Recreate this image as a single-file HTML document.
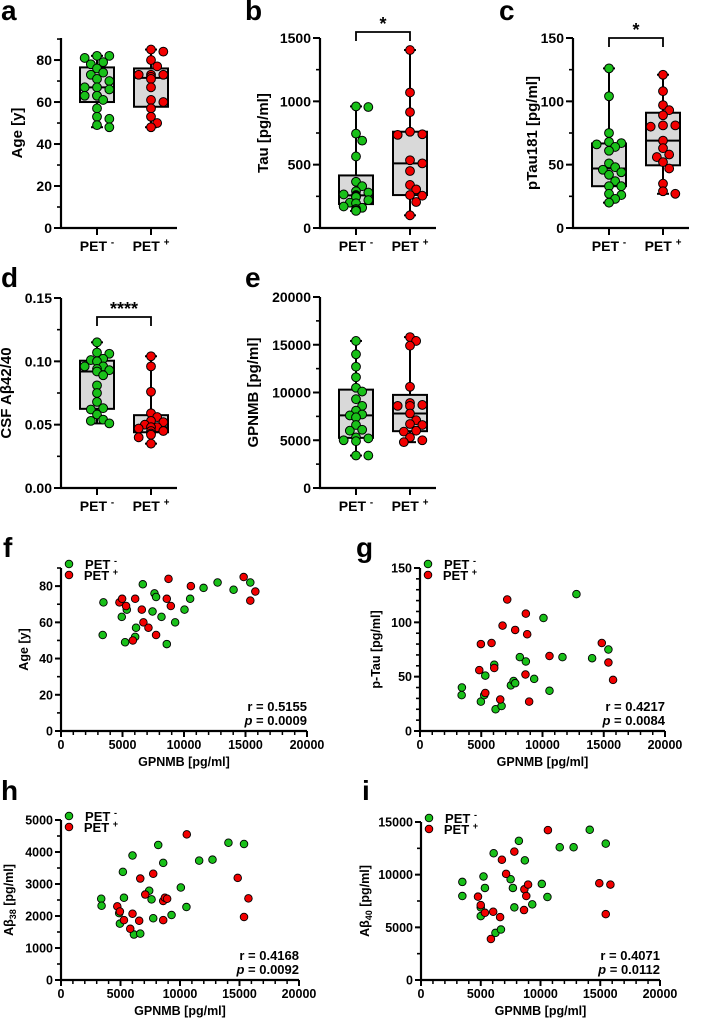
<!DOCTYPE html>
<html><head><meta charset="utf-8"><style>
html,body{margin:0;padding:0;background:#fff;}
svg{display:block;font-family:"Liberation Sans",Arial,sans-serif;font-weight:bold;}
</style></head><body>
<svg id="fig" width="709" height="1021" viewBox="0 0 709 1021" xmlns="http://www.w3.org/2000/svg"></svg>
<script>
// ---------- DATA ----------
const groups = ["PET -", "PET +"];
const ageNeg = [82,82,81,79,78,76,74,73,71,70,67,67,66,63,63,63,61,57,53,52,49,48];
const agePos = [85,84,80,77,73,73,73,72,71,67,61,60,57,53,50,48];
const tauNeg = [960,955,745,690,565,365,330,290,280,265,260,255,250,245,220,200,195,170,160,150,140,135];
const tauPos = [1405,1070,915,760,740,735,535,510,450,340,305,260,255,205,100];
const ptauNeg = [126,104,75,68,67,66,64,61,51,48,46,44,42,37,33,33,27,26,23,20];
const ptauPos = [121,108,97,93,89,81,81,80,69,63,58,56,52,47,35,29,27];
const abNeg = [0.115,0.107,0.106,0.102,0.101,0.100,0.096,0.096,0.094,0.093,0.092,0.089,0.081,0.075,0.068,0.063,0.062,0.058,0.054,0.053,0.051];
const abPos = [0.104,0.096,0.076,0.059,0.056,0.053,0.052,0.050,0.048,0.048,0.047,0.045,0.045,0.043,0.042,0.040,0.035];
const gpNeg = [15400,14000,12700,11600,10500,10100,9300,8600,8100,7700,7600,7400,6600,6100,6000,5300,5200,5000,4900,3400,3400];
const gpPos = [15800,15400,14900,10600,8900,8700,8600,8600,7800,7100,6700,6600,6000,5900,5300,5000,4800];

const fNegX = [3450,3390,4940,5350,5210,6100,6030,6650,7600,7730,7440,8170,8600,9280,10040,10500,11590,12730,14030,15390];
const fNegY = [71,53,63,67,49,57,52,81,76,74,66,63,48,60,67,73,79,82,78,82];
const fPosX = [4750,4970,5290,5840,6030,6570,6700,7110,7730,8600,8740,8930,10560,14850,15390,15800];
const fPosY = [71,73,69,50,73,67,60,57,53,73,84,69,80,85,72,77];

const gNegX = [3420,3400,4970,5240,5330,6060,6170,6660,7420,7640,7770,8150,8640,9320,10080,10570,11630,12770,14050,15380];
const gNegY = [40,33,27,33,51,61,20,23,42,46,44,68,64,48,104,37,68,126,67,75];
const gPosX = [4840,4970,5330,5840,6060,6550,6740,7120,7770,8640,8610,8750,8910,10570,14840,15380,15760];
const gPosY = [56,80,35,81,58,29,97,121,93,108,52,89,27,69,81,63,47];

const hNegX = [3380,3410,4890,4950,5200,5290,6010,6130,6660,7410,7610,7750,8170,8590,9290,10070,10540,11610,12730,14070,15380];
const hNegY = [2540,2320,2090,1760,3380,2570,3890,1420,1450,2790,2520,1930,4220,3660,2030,2890,2280,3730,3760,4290,4250];
const hPosX = [4730,4950,5290,5820,6010,6570,6660,7080,7750,8590,8590,8730,8920,10570,14850,15380,15750];
const hPosY = [2300,2140,1870,1600,2070,1850,3170,2670,3320,1870,2470,2570,2540,4550,3190,1970,2550];

const iNegX = [3460,3460,5000,5000,5230,5350,6080,6230,6690,7500,7690,7810,8190,8690,9310,10110,10580,11610,12770,14120,15460];
const iNegY = [9310,7970,6890,6060,9830,8740,12030,4470,4790,9570,8740,6890,13210,11360,7180,9120,7880,12600,12600,14260,12950];
const iPosX = [4770,5000,5350,5850,6040,6620,6770,7120,7810,8650,8810,8960,8620,10620,14920,15850,15460];
const iPosY = [7910,7110,6380,3890,6480,5970,11420,10080,12190,8610,7970,9060,6640,14230,9190,9060,6250];

const ticksA = [0,20,40,60,80];
const ticksB = [0,500,1000,1500];
const ticksC = [0,50,100,150];
const ticksD = [0,0.05,0.10,0.15];
const ticksDLabels = ["0.00","0.05","0.10","0.15"];
const ticksE = [0,5000,10000,15000,20000];
const ticksGP = [0,5000,10000,15000,20000];
const ticksF = [0,20,40,60,80];
const ticksG = [0,50,100,150];
const ticksH = [0,1000,2000,3000,4000,5000];
const ticksI = [0,5000,10000,15000];

// ---------- HELPERS ----------
const NS="http://www.w3.org/2000/svg";
const svg=document.getElementById('fig');
const GREEN="#19c019", RED="#f20000";
function mk(tag,attrs,parent){const e=document.createElementNS(NS,tag);for(const k in attrs)e.setAttribute(k,attrs[k]);(parent||svg).appendChild(e);return e;}
function txt(x,y,s,size,anchor,parent){const t=mk('text',{x:x,y:y,'font-size':size,'text-anchor':anchor||'start',fill:'#000'},parent);t.textContent=s;return t;}
function quant(arr,p){const a=[...arr].sort((x,y)=>x-y);const n=a.length;let pos=p*(n+1)-1;if(pos<0)pos=0;if(pos>n-1)pos=n-1;const lo=Math.floor(pos),hi=Math.ceil(pos);return a[lo]+(a[hi]-a[lo])*(pos-lo);}
function petLabel(x,y,sign,size,parent){
  const t=mk('text',{x:x,y:y,'font-size':size,'text-anchor':'middle'},parent);
  t.appendChild(document.createTextNode('PET '));
  const s=document.createElementNS(NS,'tspan');s.setAttribute('dy',-size*0.4);s.setAttribute('font-size',size*0.7);s.textContent=sign;t.appendChild(s);
  return t;
}
function letter(x,y,s){const t=txt(x,y,s,28,'start');}

function yAxis(g,axX,sy,ticks,labels,minorStep,ymax,size,tickLen){
  mk('line',{x1:axX,y1:sy(0)+1,x2:axX,y2:sy(ymax),stroke:'#000','stroke-width':2.2},g);
  for(let v=0;v<=ymax+1e-9;v+=minorStep){mk('line',{x1:axX-4,y1:sy(v),x2:axX,y2:sy(v),stroke:'#000','stroke-width':1.6},g);}
  ticks.forEach((v,i)=>{mk('line',{x1:axX-tickLen,y1:sy(v),x2:axX,y2:sy(v),stroke:'#000','stroke-width':2},g);
    const t=txt(axX-tickLen-2,sy(v)+size*0.36,labels?labels[i]:String(v),size,'end',g);
    });
}
function swarm(vals,sy,cx,r){
  const idx=vals.map((v,i)=>i).sort((a,b)=>vals[b]-vals[a]);const placed=[];const out=new Array(vals.length);
  idx.forEach(i=>{const y=sy(vals[i]);let off=0;
    for(let k=0;k<40;k++){const cand=k===0?0:(k%2?1:-1)*Math.ceil(k/2)*r*1.4;
      if(Math.abs(cand)>r*3.2)continue;
      if(placed.every(p=>Math.hypot(p.x-(cx+cand),p.y-y)>=r*1.6)){off=cand;break;}}
    placed.push({x:cx+off,y:y});out[i]={x:cx+off,y:y};});
  return out;
}

function boxPanel(name,axX,y0,ytop,ymax,neg,pos,ticks,labels,minor,title,titleX){
  const g=mk('g',{},svg);
  const sy=v=>y0-(v/ymax)*(y0-ytop);
  const cxs=[axX+36,axX+90];
  yAxis(g,axX,sy,ticks,labels,minor,ymax,14,7);
  mk('line',{x1:axX-1,y1:y0,x2:axX+116,y2:y0,stroke:'#000','stroke-width':2.2},g);
  [neg,pos].forEach((d,gi)=>{
    const cx=cxs[gi];
    mk('line',{x1:cx,y1:y0,x2:cx,y2:y0+7,stroke:'#000','stroke-width':2},g);
    const lab=petLabel(cx,y0+23,gi?'+':'-',14,g);
    const q1=quant(d,0.25),q2=quant(d,0.5),q3=quant(d,0.75),mn=Math.min(...d),mx=Math.max(...d);
    const bg=mk('g',{},g);
    mk('line',{x1:cx,y1:sy(mn),x2:cx,y2:sy(mx),stroke:'#000','stroke-width':2},bg);
    mk('line',{x1:cx-6,y1:sy(mn),x2:cx+6,y2:sy(mn),stroke:'#000','stroke-width':2},bg);
    mk('line',{x1:cx-6,y1:sy(mx),x2:cx+6,y2:sy(mx),stroke:'#000','stroke-width':2},bg);
    mk('rect',{x:cx-17,y:sy(q3),width:34,height:sy(q1)-sy(q3),fill:'#d9d9d9',stroke:'#000','stroke-width':2},bg);
    mk('line',{x1:cx-17,y1:sy(q2),x2:cx+17,y2:sy(q2),stroke:'#000','stroke-width':2},bg);
    const pts=swarm(d,sy,cx,4.4);
    pts.forEach(p=>{const c=mk('circle',{cx:p.x,cy:p.y,r:4.4,fill:gi?RED:GREEN,stroke:'#000','stroke-width':1},g);
      });
  });
  const t=mk('text',{x:0,y:0,'font-size':15,'text-anchor':'middle',transform:`translate(${titleX},${(y0+ytop)/2}) rotate(-90)`},g);
  t.innerHTML=title;
  return {g,cxs};
}
function sig(g,x1,x2,y,stars){
  const b=mk('path',{d:`M${x1},${y+9}V${y}H${x2}V${y+9}`,fill:'none',stroke:'#000','stroke-width':1.8},g);
  
  const t=txt((x1+x2)/2,y-2,stars,18,'middle',g);
}

function scatterPanel(name,axX,xEnd,y0,ytop,ymax,ticks,minor,negX,negY,posX,posY,title,titleX,r,p){
  const g=mk('g',{},svg);
  const sy=v=>y0-(v/ymax)*(y0-ytop);
  const sx=v=>axX+(v/20000)*(xEnd-axX);
  yAxis(g,axX,sy,ticks,null,minor,ymax,12.5,6);
  mk('line',{x1:axX-1,y1:y0,x2:xEnd,y2:y0,stroke:'#000','stroke-width':2.2},g);
  for(let v=0;v<=20000;v+=1000){const major=v%5000===0;
    mk('line',{x1:sx(v),y1:y0,x2:sx(v),y2:y0+(major?6:4),stroke:'#000','stroke-width':major?2:1.5},g);}
  ticksGP.forEach(v=>{const t=txt(sx(v),y0+18,String(v),12.5,'middle',g);});
  const xl=txt((axX+xEnd)/2,y0+35,'GPNMB [pg/ml]',12.5,'middle',g);
  const yl=mk('text',{x:0,y:0,'font-size':12.5,'text-anchor':'middle',transform:`translate(${titleX},${(y0+ytop)/2}) rotate(-90)`},g);
  yl.innerHTML=title;
  [[negX,negY,GREEN],[posX,posY,RED]].forEach(([xs,ys,col])=>{
    xs.forEach((xv,i)=>{const c=mk('circle',{cx:sx(xv),cy:sy(ys[i]),r:3.8,fill:col,stroke:'#000','stroke-width':0.9},g);
      });
  });
  const lg=mk('g',{},g);
  const ly=ytop-4;
  mk('circle',{cx:axX+8,cy:ly,r:3.8,fill:GREEN,stroke:'#000','stroke-width':0.9},lg);
  mk('circle',{cx:axX+8,cy:ly+11,r:3.8,fill:RED,stroke:'#000','stroke-width':0.9},lg);
  const l1=petLabel(axX+40,ly+5,'-',13,lg);
  const l2=petLabel(axX+40,ly+16,'+',13,lg);
  const rt=txt(xEnd,y0-20,'r = '+r,13,'end',g);
  const pt=mk('text',{x:xEnd,y:y0-6,'font-size':13,'text-anchor':'end'},g);
  pt.innerHTML='<tspan font-style="italic">p</tspan> = '+p;
}

// ---------- BUILD ----------
letter(1,20,'a');letter(245,20,'b');letter(499,20,'c');
letter(1,287,'d');letter(245,287,'e');
letter(3,557,'f');letter(356,557,'g');
letter(1,800,'h');letter(362,800,'i');

boxPanel('panel-a-age',61,228,38,90.5,ageNeg,agePos,ticksA,null,10,'Age [y]',22);
const b=boxPanel('panel-b-tau',320,228,38,1500,tauNeg,tauPos,ticksB,null,250,'Tau [pg/ml]',268);
sig(b.g,b.cxs[0],b.cxs[1],32,'*');
const c=boxPanel('panel-c-ptau181',573,228,38,150,ptauNeg,ptauPos,ticksC,null,25,'pTau181 [pg/ml]',537);
sig(c.g,c.cxs[0],c.cxs[1],38,'*');
const d=boxPanel('panel-d-csf-ab',61,488,298,0.15,abNeg,abPos,ticksD,ticksDLabels,0.025,'CSF A&#946;42/40',11);
sig(d.g,d.cxs[0],d.cxs[1],317,'****');
boxPanel('panel-e-gpnmb',320,488,297,20000,gpNeg,gpPos,ticksE,null,2500,'GPNMB [pg/ml]',258);

scatterPanel('panel-f-age-vs-gpnmb',61,307,731,568,90,ticksF,10,fNegX,fNegY,fPosX,fPosY,'Age [y]',28,'0.5155','0.0009');
scatterPanel('panel-g-ptau-vs-gpnmb',420,665,731,568,150,ticksG,10,gNegX,gNegY,gPosX,gPosY,'p-Tau [pg/ml]',380,'0.4217','0.0084');
scatterPanel('panel-h-ab38-vs-gpnmb',61,299,980,820,5000,ticksH,500,hNegX,hNegY,hPosX,hPosY,'A&#946;<tspan font-size="9" dy="3">38</tspan><tspan dy="-3"> [pg/ml]</tspan>',13,'0.4168','0.0092');
scatterPanel('panel-i-ab40-vs-gpnmb',421,660,980,822,15000,ticksI,2500,iNegX,iNegY,iPosX,iPosY,'A&#946;<tspan font-size="9" dy="3">40</tspan><tspan dy="-3"> [pg/ml]</tspan>',369,'0.4071','0.0112');
</script>
</body></html>
